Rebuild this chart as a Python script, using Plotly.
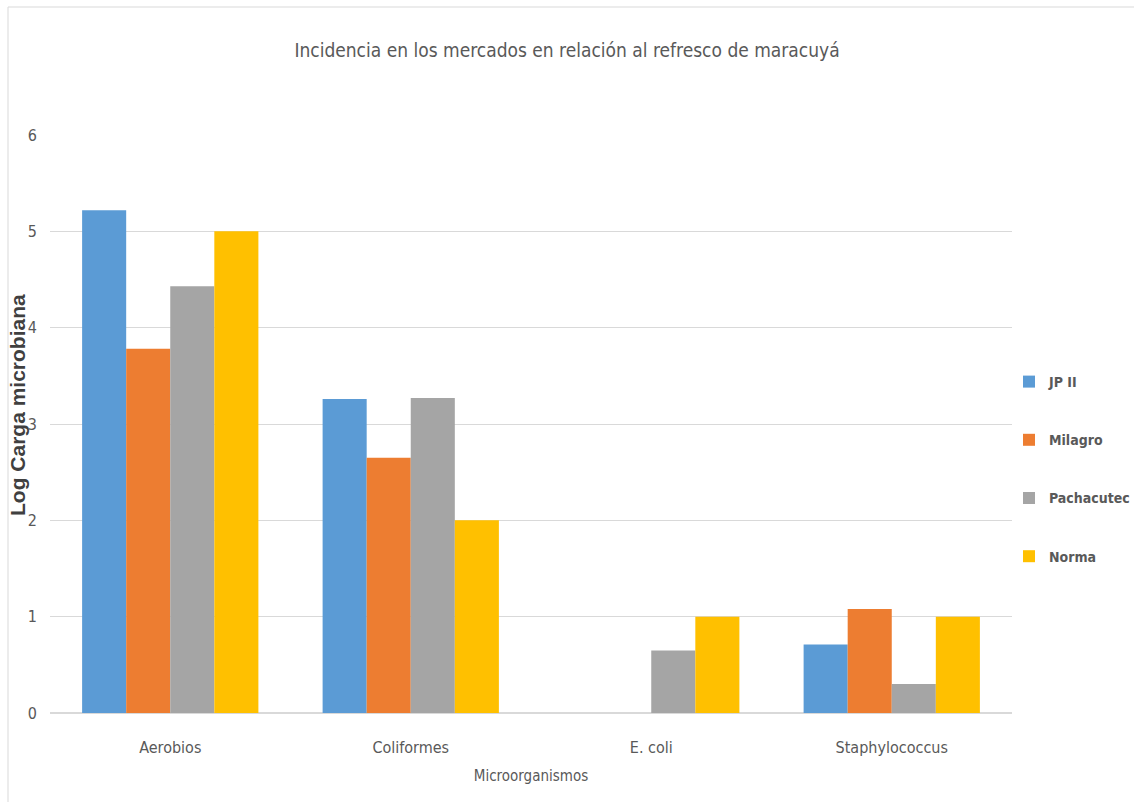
import plotly.graph_objects as go

categories = ["Aerobios", "Coliformes", "E. coli", "Staphylococcus"]
series_names = ["JP II", "Milagro", "Pachacutec", "Norma"]
jp_ii = [5.22, 3.26, 0, 0.71]
milagro = [3.78, 2.65, 0, 1.08]
pachacutec = [4.43, 3.27, 0.65, 0.30]
norma = [5.0, 2.0, 1.0, 1.0]
colors = ["#5B9BD5", "#ED7D31", "#A5A5A5", "#FFC000"]
y_ticks = [0, 1, 2, 3, 4, 5, 6]

NARROW = "DejaVu Sans Condensed, Liberation Sans Narrow, Arial Narrow, sans-serif"

fig = go.Figure()
for name, vals, c in zip(series_names, [jp_ii, milagro, pachacutec, norma], colors):
    fig.add_trace(go.Bar(name=name, x=categories, y=vals, marker_color=c,
                         marker_line_width=0, legendgroup=name))

W0, W1 = 50, 1012
T0, B0 = 135, 713
pw, ph = W1 - W0, B0 - T0

fig.update_layout(
    width=1134, height=802,
    margin=dict(l=W0, r=1134 - W1, t=T0, b=802 - B0, autoexpand=False),
    paper_bgcolor="white", plot_bgcolor="white",
    barmode="group", bargap=0.267, bargroupgap=0,
    title=dict(text="Incidencia en los mercados en relación al refresco de maracuyá",
               x=0.5, xanchor="center", y=1 - 50 / 802, yanchor="middle",
               font=dict(family=NARROW, size=19, color="#595959")),
    font=dict(family=NARROW, color="#595959"),
    showlegend=True,
    legend=dict(xref="container", x=1009 / 1134, xanchor="left",
                yref="container", y=1 - 366 / 802, yanchor="top",
                font=dict(family=NARROW, size=14, color="#595959", weight="bold"),
                tracegroupgap=37, itemwidth=30, bgcolor="rgba(0,0,0,0)"),
    xaxis=dict(tickfont=dict(family=NARROW, size=16, color="#595959"),
               showline=True, linecolor="#d9d9d9", linewidth=1, ticks="",
               ticklabelstandoff=20,
               title=dict(text="Microorganismos", standoff=14,
                          font=dict(family=NARROW, size=15, color="#595959"))),
    yaxis=dict(range=[0, 6], tickvals=y_ticks, showgrid=True, gridcolor="#d9d9d9",
               zeroline=True, zerolinecolor="#d9d9d9", ticks="", ticklabelstandoff=12,
               tickfont=dict(family=NARROW, size=16, color="#595959")),
)

fig.add_annotation(text="Log Carga microbiana", textangle=-90, showarrow=False,
                   xref="paper", yref="paper", x=(17 - W0) / pw, y=(B0 - 405) / ph,
                   xanchor="center", yanchor="middle",
                   font=dict(family="Liberation Sans, Arial, sans-serif", size=21,
                             color="#404040", weight="bold"))

# outer frame (left and top edges)
fig.add_shape(type="line", xref="paper", yref="paper",
              x0=(8 - W0) / pw, x1=(8 - W0) / pw, y0=(B0 - 7) / ph, y1=(B0 - 810) / ph,
              line=dict(color="#d9d9d9", width=1))
fig.add_shape(type="line", xref="paper", yref="paper",
              x0=(8 - W0) / pw, x1=(1140 - W0) / pw, y0=(B0 - 7) / ph, y1=(B0 - 7) / ph,
              line=dict(color="#d9d9d9", width=1))

fig.write_html("out.html")
